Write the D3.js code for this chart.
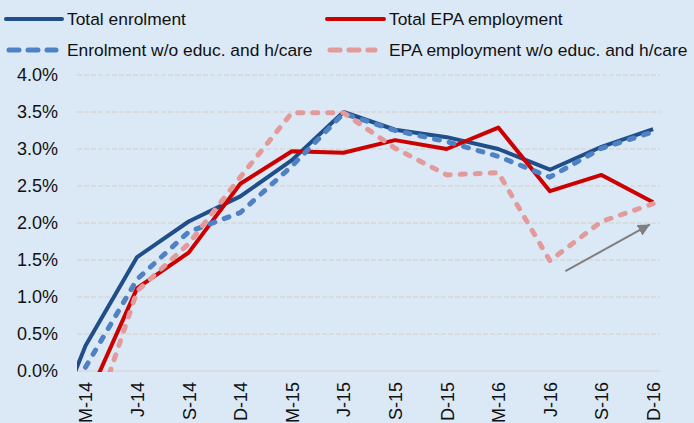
<!DOCTYPE html>
<html>
<head>
<meta charset="utf-8">
<script src="https://cdn.jsdelivr.net/npm/d3@7"></script>
<style>
    body { margin: 0; background: #dbe8f5; }
    svg { display: block; font-family: Arial, 'Liberation Sans', sans-serif; }
</style>
</head>
<body>
<div id="chart"></div>
<script>
// Quarters (D-13 sits left of the plot area and is clipped)
const quarters = ['D-13', 'M-14', 'J-14', 'S-14', 'D-14', 'M-15', 'J-15', 'S-15', 'D-15', 'M-16', 'J-16', 'S-16', 'D-16'];
const tickQuarters = quarters.slice(1);

// Year-on-year growth, %
const totalEnrolment = [-1.4, 0.34, 1.54, 2.02, 2.36, 2.85, 3.5, 3.26, 3.16, 3.0, 2.72, 3.03, 3.27];
const totalEpa = [null, -0.44, 1.12, 1.6, 2.53, 2.97, 2.95, 3.12, 3.0, 3.29, 2.43, 2.65, 2.28];
const enrolmentExcl = [null, 0.05, 1.24, 1.88, 2.14, 2.77, 3.48, 3.25, 3.1, 2.9, 2.62, 3.01, 3.23];
const epaExcl = [null, -1.0, 1.08, 1.72, 2.62, 3.49, 3.49, 3.01, 2.65, 2.68, 1.49, 2.02, 2.26];

const yTicks = [0, 0.5, 1, 1.5, 2, 2.5, 3, 3.5, 4];

// Arrow annotation (quarter + fraction of a step, value)
const arrowFrom = { q: 'J-16', shift: 0.3, v: 1.35 };
const arrowTo = { q: 'D-16', shift: -0.06, v: 1.98 };

const width = 694;
const height = 423;
const plot = { left: 77, right: 660, top: 75, bottom: 371 };

const svg = d3.select('#chart')
    .append('svg')
    .attr('width', width)
    .attr('height', height);

svg.append('rect')
    .attr('width', width)
    .attr('height', height)
    .attr('fill', '#dbe8f5');

const x = d3.scalePoint().domain(quarters).range([33.9, 653.1]);
const y = d3.scaleLinear().domain([0, 4]).range([plot.bottom, plot.top]);

// Gridlines
svg.append('g')
    .selectAll('line')
    .data(yTicks)
    .enter()
    .append('line')
    .attr('x1', plot.left)
    .attr('x2', plot.right)
    .attr('y1', d => y(d))
    .attr('y2', d => y(d))
    .attr('stroke', '#d8d8d8')
    .attr('stroke-width', 1.6)
    .attr('stroke-dasharray', d => d === 0 ? null : '5,2');

// Y axis
const yAxis = svg.append('g')
    .attr('transform', `translate(${plot.left},0)`)
    .call(d3.axisLeft(y).tickValues(yTicks).tickFormat(d => d.toFixed(1) + '%').tickSize(0).tickPadding(19));
yAxis.select('.domain').remove();
yAxis.selectAll('text')
    .attr('font-size', 18)
    .attr('font-family', 'Arial, Liberation Sans, sans-serif')
    .attr('fill', '#111');

// X axis
const xAxis = svg.append('g')
    .attr('transform', `translate(0,${plot.bottom})`)
    .call(d3.axisBottom(x).tickValues(tickQuarters).tickSize(0));
xAxis.select('.domain').remove();
xAxis.selectAll('text')
    .attr('font-size', 18)
    .attr('font-family', 'Arial, Liberation Sans, sans-serif')
    .attr('fill', '#111')
    .attr('transform', 'rotate(-90)')
    .attr('text-anchor', 'end')
    .attr('x', -11)
    .attr('y', 0)
    .attr('dy', '.35em');

// Clip lines to the plot area
svg.append('clipPath')
    .attr('id', 'plot-clip')
    .append('rect')
    .attr('x', plot.left)
    .attr('y', 0)
    .attr('width', width - plot.left)
    .attr('height', plot.bottom + 1);

const series = [
    { name: 'Total enrolment', values: totalEnrolment, color: '#1f4e89', width: 4, dash: null },
    { name: 'Total EPA employment', values: totalEpa, color: '#cc0000', width: 4, dash: null },
    { name: 'Enrolment w/o educ. and h/care', values: enrolmentExcl, color: '#4f82c4', width: 5, dash: '5,10' },
    { name: 'EPA employment w/o educ. and h/care', values: epaExcl, color: '#e39a9a', width: 5, dash: '5,10' }
];

const line = d3.line()
    .defined(d => d.v !== null)
    .x(d => x(d.q))
    .y(d => y(d.v));

const lines = svg.append('g').attr('clip-path', 'url(#plot-clip)');
series.forEach(s => {
    lines.append('path')
        .datum(quarters.map((q, i) => ({ q: q, v: s.values[i] })))
        .attr('d', line)
        .attr('fill', 'none')
        .attr('stroke', s.color)
        .attr('stroke-width', s.width)
        .attr('stroke-linejoin', 'round')
        .attr('stroke-linecap', s.dash ? 'round' : 'butt')
        .attr('stroke-dasharray', s.dash);
});

// Arrow
svg.append('defs')
    .append('marker')
    .attr('id', 'arrow-head')
    .attr('viewBox', '0 0 10 10')
    .attr('refX', 10)
    .attr('refY', 5)
    .attr('markerWidth', 6)
    .attr('markerHeight', 6)
    .attr('markerUnits', 'strokeWidth')
    .attr('orient', 'auto')
    .append('path')
    .attr('d', 'M0,0L10,5L0,10Z')
    .attr('fill', '#7f7f7f');

const ax = p => x(p.q) + p.shift * x.step();
svg.append('line')
    .attr('x1', ax(arrowFrom))
    .attr('y1', y(arrowFrom.v))
    .attr('x2', ax(arrowTo))
    .attr('y2', y(arrowTo.v))
    .attr('stroke', '#7f7f7f')
    .attr('stroke-width', 2)
    .attr('marker-end', 'url(#arrow-head)');

// Legend
const legendPos = [
    { x: 6, y: 19, len: 56, tx: 67 },
    { x: 327, y: 19, len: 57, tx: 389 },
    { x: 6, y: 50, len: 53, tx: 67 },
    { x: 327, y: 50, len: 51, tx: 389 }
];

const legend = svg.append('g');
series.forEach((s, i) => {
    const p = legendPos[i];
    legend.append('line')
        .attr('x1', p.x + (s.dash ? 3 : 0))
        .attr('x2', p.x + p.len - (s.dash ? 3 : 0))
        .attr('y1', p.y)
        .attr('y2', p.y)
        .attr('stroke', s.color)
        .attr('stroke-width', s.width)
        .attr('stroke-linecap', 'round')
        .attr('stroke-dasharray', s.dash ? '10,9' : null);
    legend.append('text')
        .attr('x', p.tx)
        .attr('y', p.y)
        .attr('dy', '.35em')
        .attr('font-size', 17.4)
        .attr('fill', '#111')
        .text(s.name);
});
</script>
</body>
</html>
